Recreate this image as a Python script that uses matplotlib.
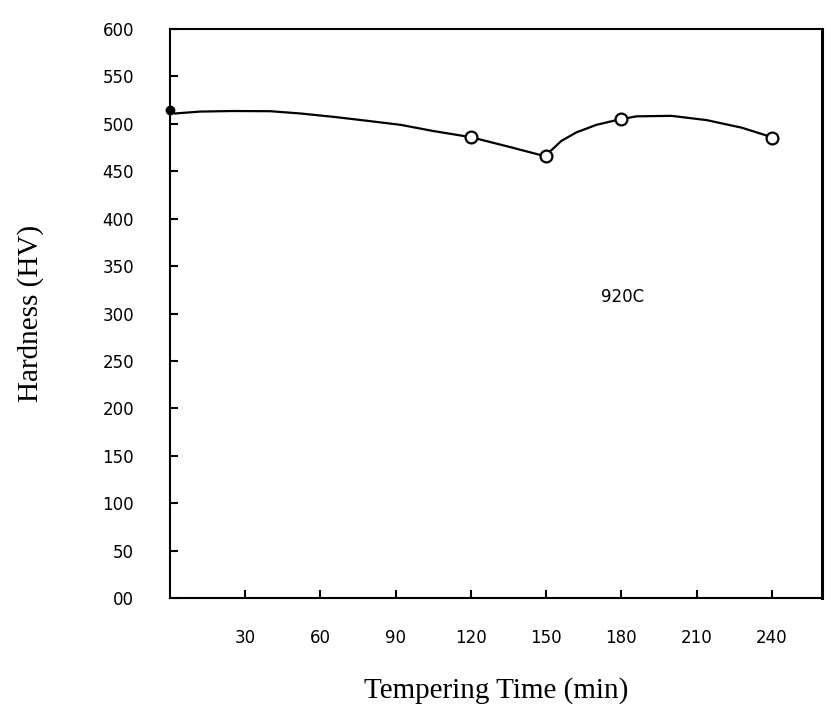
import matplotlib.pyplot as plt
from matplotlib import rcParams

rcParams['font.family'] = 'DejaVu Sans'

# Measured hardness after tempering
time_min = [120, 150, 180, 240]
hardness_hv = [486, 466, 505, 485]

# As-quenched reading at t = 0
start_time = [0]
start_hv = [515]

# Hand-faired trend curve through the measurements
curve_t = [2, 12, 25, 40, 52, 65, 78, 92, 105, 120, 135, 148,
           152, 156, 162, 170, 178, 186, 200, 214, 228, 240]
curve_hv = [511, 513, 513.6, 513.4, 511, 507.5, 503.5, 499, 492.5, 486, 476, 467,
            472, 482, 491, 499, 504, 508, 508.5, 504, 496, 486]

x_ticks = [30, 60, 90, 120, 150, 180, 210, 240]
y_ticks = list(range(0, 601, 50))
y_labels = ['00'] + [str(v) for v in y_ticks[1:]]

fig = plt.figure(figsize=(8.31, 7.18), dpi=100)
ax = fig.add_axes([0.2046, 0.167, 0.7846, 0.7925])

ax.plot(curve_t, curve_hv, color='black', linewidth=1.6, zorder=2)
ax.plot(time_min, hardness_hv, linestyle='none', marker='o', markersize=8.5,
        markerfacecolor='white', markeredgecolor='black', markeredgewidth=1.6, zorder=3)
ax.plot(start_time, start_hv, linestyle='none', marker='o', markersize=6,
        color='black', zorder=4, clip_on=False)

ax.text(172, 318, '920C', fontsize=12, color='black', va='center', ha='left')

ax.set_xlim(0, 260)
ax.set_ylim(0, 600)
ax.set_xticks(x_ticks)
ax.set_xticklabels([str(v) for v in x_ticks])
ax.set_yticks(y_ticks)
ax.set_yticklabels(y_labels)

ax.tick_params(axis='both', direction='in', length=6, width=1.5,
               labelsize=12, colors='black')
ax.tick_params(axis='x', pad=22)
ax.tick_params(axis='y', pad=26)

for side in ['left', 'bottom', 'top']:
    ax.spines[side].set_linewidth(1.5)
ax.spines['right'].set_linewidth(2.2)

ax.set_xlabel('Tempering Time (min)', fontsize=21, family='Liberation Serif', labelpad=22)
ax.set_ylabel('Hardness (HV)', fontsize=21, family='Liberation Serif', labelpad=42)

plt.savefig('out.png', dpi=100)
